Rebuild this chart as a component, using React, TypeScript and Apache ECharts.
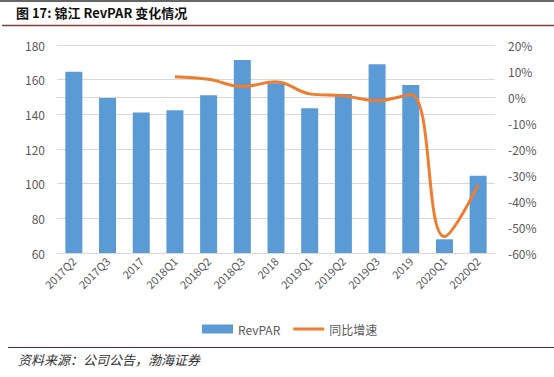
import React, { useEffect, useRef } from "react";
import * as echarts from "echarts";

const categories = ["2017Q2", "2017Q3", "2017", "2018Q1", "2018Q2", "2018Q3", "2018", "2019Q1", "2019Q2", "2019Q3", "2019", "2020Q1", "2020Q2"];
const revpar = [164.6, 149.4, 141, 142.3, 151, 171.3, 158, 143.5, 151.7, 168.9, 156.9, 67.9, 104.6];
const yoy: (number | null)[] = [null, null, null, 7.8, 6.8, 4.0, 5.9, 1.2, 0.5, -1.4, 1.0, -53.7, -33.8];

export default function App() {
  const ref = useRef<HTMLDivElement>(null);
  useEffect(() => {
    if (!ref.current) return;
    const chart = echarts.init(ref.current, undefined, { renderer: "svg" });
    const labelColor = "#595959";
    chart.setOption({
      animation: false,
      backgroundColor: "#fff",
      grid: { left: 57, right: 59, top: 45, bottom: 124, containLabel: false },
      legend: {
        left: 197,
        top: 318,
        itemGap: 13,
        itemWidth: 31,
        itemHeight: 9,
        symbolKeepAspect: true,
        textStyle: { color: labelColor, fontSize: 12, fontFamily: "Noto Sans CJK SC" },
        data: [
          { name: "RevPAR", icon: "rect" },
          { name: "同比增速", icon: "path://M0,0 L31,0 L31,3 L0,3 Z" },
        ],
      },
      xAxis: {
        type: "category",
        data: categories,
        axisLine: { lineStyle: { color: "#d9d9d9" } },
        axisTick: { show: false },
        axisLabel: { rotate: 45, color: labelColor, fontSize: 11, fontFamily: "Noto Sans CJK SC", interval: 0, margin: 6 },
      },
      yAxis: [
        {
          type: "value",
          min: 60,
          max: 180,
          interval: 20,
          axisLine: { show: false },
          axisTick: { show: false },
          splitLine: { lineStyle: { color: "#d9d9d9" } },
          axisLabel: { color: labelColor, fontSize: 12, margin: 12, fontFamily: "Noto Sans CJK SC" },
        },
        {
          type: "value",
          min: -60,
          max: 20,
          interval: 10,
          axisLine: { show: false },
          axisTick: { show: false },
          splitLine: { show: false },
          axisLabel: { color: labelColor, fontSize: 12, margin: 13, formatter: "{value}%", fontFamily: "Noto Sans CJK SC" },
        },
      ],
      series: [
        {
          name: "RevPAR",
          type: "bar",
          data: revpar,
          barWidth: 17,
          itemStyle: { color: "#5B9BD5" },
        },
        {
          name: "同比增速",
          type: "line",
          yAxisIndex: 1,
          data: yoy,
          smooth: 0.4,
          showSymbol: false,
          symbol: "none",
          lineStyle: { color: "#ED7D31", width: 3 },
          itemStyle: { color: "#ED7D31" },
        },
      ],
      graphic: [
        { type: "line", shape: { x1: 0, y1: 1, x2: 554, y2: 1 }, style: { stroke: "#333", lineWidth: 1.5 } },
        {
          type: "text",
          left: 16,
          top: 6,
          style: { text: "图 17: 锦江 RevPAR 变化情况", font: "bold 13px 'Noto Sans CJK SC'", fill: "#111" },
        },
        { type: "line", shape: { x1: 2, y1: 25.5, x2: 554, y2: 25.5 }, style: { stroke: "#8B3A3A", lineWidth: 1.5 } },
        { type: "line", shape: { x1: 8, y1: 347.5, x2: 554, y2: 347.5 }, style: { stroke: "#6B2A2A", lineWidth: 1.2 } },
        {
          type: "text",
          left: 18,
          top: 353,
          style: { text: "资料来源：公司公告，渤海证券", font: "italic 13px 'Noto Sans CJK SC'", fill: "#333" },
        },
      ],
    });
    return () => chart.dispose();
  }, []);
  return <div ref={ref} style={{ position: "fixed", left: 0, top: 0, width: 554, height: 377 }} />;
}
